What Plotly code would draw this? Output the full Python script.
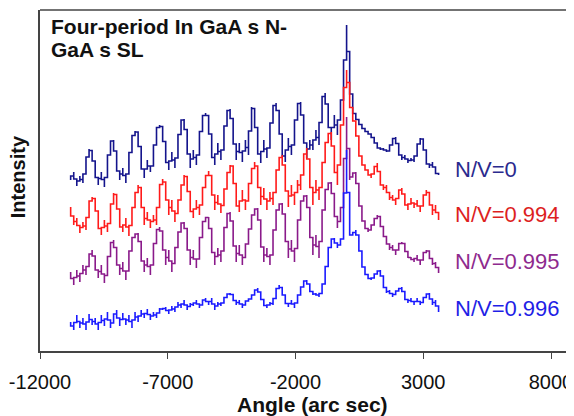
import plotly.graph_objects as go

# Angle (arc sec) sampling of the scans
angle = [
    -10800, -10680, -10560, -10440, -10320, -10200, -10080, -9960, -9840, -9720,
    -9600, -9480, -9360, -9240, -9120, -9000, -8880, -8760, -8640, -8520,
    -8400, -8280, -8160, -8040, -7920, -7800, -7680, -7560, -7440, -7320,
    -7200, -7080, -6960, -6840, -6720, -6600, -6480, -6360, -6240, -6120,
    -6000, -5880, -5760, -5640, -5520, -5400, -5280, -5160, -5040, -4920,
    -4800, -4680, -4560, -4440, -4320, -4200, -4080, -3960, -3840, -3720,
    -3600, -3480, -3360, -3240, -3120, -3000, -2880, -2760, -2640, -2520,
    -2400, -2280, -2160, -2040, -1920, -1800, -1680, -1560, -1440, -1320,
    -1200, -1080, -960, -840, -720, -600, -480, -360, -240, -120,
    0, 120, 240, 360, 480, 600, 720, 840, 960, 1080,
    1200, 1320, 1440, 1560, 1680, 1800, 1920, 2040, 2160, 2280,
    2400, 2520, 2640, 2760, 2880, 3000, 3120, 3240, 3360, 3480,
    3600,
]

# Offset intensities (arb. units) for each N/V ratio
nv_0 = [
    171, 179, 165, 175, 168, 186, 202, 199, 181, 166,
    179, 164, 183, 209, 211, 189, 171, 183, 168, 186,
    211, 220, 218, 191, 173, 191, 179, 191, 221, 226,
    223, 196, 181, 199, 183, 203, 230, 232, 211, 183,
    201, 186, 206, 233, 238, 233, 201, 186, 208, 191,
    211, 239, 242, 223, 191, 208, 189, 211, 196, 244,
    241, 206, 188, 211, 193, 213, 243, 248, 233, 201,
    189, 213, 196, 216, 246, 249, 223, 193, 211, 201,
    221, 206, 251, 258, 236, 211, 236, 216, 246, 256,
    326, 273, 241, 234, 229, 224, 221, 218, 216, 211,
    205, 201, 203, 199, 201, 211, 214, 201, 191, 196,
    188, 193, 189, 201, 213, 211, 191, 183, 189, 179,
    176,
]
nv_0994 = [
    144, 126, 133, 118, 129, 121, 146, 154, 151, 129,
    116, 131, 119, 136, 158, 155, 129, 119, 133, 115,
    136, 151, 166, 161, 126, 139, 123, 136, 126, 161,
    172, 166, 136, 151, 129, 146, 156, 176, 173, 146,
    133, 151, 136, 156, 171, 180, 171, 141, 156, 138,
    153, 171, 186, 184, 151, 139, 161, 141, 159, 176,
    189, 181, 146, 163, 141, 159, 146, 171, 191, 196,
    176, 144, 166, 146, 171, 161, 191, 203, 181, 146,
    171, 151, 176, 201, 216, 219, 191, 166, 206, 246,
    281, 256, 231, 229, 201, 189, 183, 179, 173, 181,
    188, 171, 161, 166, 151, 156, 146, 159, 163, 151,
    141, 153, 143, 151, 139, 151, 161, 156, 136, 146,
    131,
]
nv_0995 = [
    79, 66, 81, 69, 86, 76, 93, 101, 89, 73,
    86, 68, 83, 106, 111, 96, 76, 89, 71, 89,
    111, 116, 118, 101, 79, 93, 76, 96, 119, 124,
    116, 86, 101, 79, 96, 111, 127, 129, 116, 86,
    101, 83, 101, 126, 133, 134, 111, 86, 103, 89,
    111, 136, 139, 121, 89, 106, 86, 101, 113, 131,
    141, 143, 119, 89, 103, 86, 106, 136, 146, 148,
    126, 93, 111, 89, 116, 146, 154, 156, 131, 96,
    116, 93, 126, 156, 167, 169, 146, 123, 136, 151,
    234, 171, 177, 179, 156, 134, 126, 119, 123, 129,
    136, 133, 116, 113, 101, 106, 96, 106, 109, 106,
    93, 94, 89, 96, 86, 96, 101, 99, 86, 89,
    78,
]
nv_0996 = [
    29, 21, 36, 23, 33, 21, 37, 26, 33, 21,
    36, 25, 39, 23, 33, 41, 25, 38, 26, 36,
    23, 39, 29, 41, 33, 42, 31, 39, 33, 43,
    41, 44, 37, 45, 39, 49, 43, 51, 41, 48,
    45, 51, 43, 49, 53, 46, 53, 41, 49, 45,
    51, 56, 58, 55, 46, 51, 43, 49, 51, 53,
    59, 63, 55, 48, 43, 49, 46, 59, 66, 61,
    51, 44, 51, 43, 53, 59, 69, 71, 63, 56,
    58, 54, 61, 73, 96, 111, 113, 103, 109, 115,
    201, 116, 116, 121, 111, 89, 79, 74, 71, 75,
    79, 81, 69, 58, 61, 54, 59, 61, 64, 55,
    48, 53, 46, 53, 46, 51, 56, 58, 46, 51,
    39,
]

series_labels = ["N/V=0", "N/V=0.994", "N/V=0.995", "N/V=0.996"]
tick_vals = [-12000, -7000, -2000, 3000, 8000]
tick_text = ["-12000", "-7000", "-2000", "3000", "8000"]

FONT = "Liberation Sans, Arial, Helvetica, sans-serif"
line_colors = ["#14148c", "#ff1a1a", "#8a1a8a", "#1a1aff"]
label_colors = ["#2a2a8e", "#dd1f1f", "#8e2a8e", "#1f1fe6"]
label_y = [0.533, 0.401, 0.261, 0.126]

fig = go.Figure()
for name, vals, col in zip(series_labels, [nv_0, nv_0994, nv_0995, nv_0996], line_colors):
    fig.add_trace(go.Scatter(
        x=angle, y=vals, mode="lines", name=name, showlegend=False,
        line=dict(color=col, width=1.6, shape="vhv"),
    ))

annotations = []
for name, col, yy in zip(series_labels, label_colors, label_y):
    annotations.append(dict(
        x=0.773, y=yy, xref="paper", yref="paper", xanchor="left", yanchor="middle",
        text=name, showarrow=False, font=dict(family=FONT, size=22, color=col),
    ))

annotations += [
    dict(x=0.016, y=0.952, xref="paper", yref="paper", xanchor="left", yanchor="middle",
         text="<b>Four-period In GaA s N-</b>", showarrow=False,
         font=dict(family=FONT, size=21, color="#111")),
    dict(x=0.016, y=0.884, xref="paper", yref="paper", xanchor="left", yanchor="middle",
         text="<b>GaA s SL</b>", showarrow=False,
         font=dict(family=FONT, size=21, color="#111")),
    dict(x=-0.041, y=0.51, xref="paper", yref="paper", xanchor="center", yanchor="middle",
         text="<b>Intensity</b>", textangle=-90, showarrow=False,
         font=dict(family=FONT, size=20, color="#111")),
    dict(x=0.51, y=-0.157, xref="paper", yref="paper", xanchor="center", yanchor="middle",
         text="<b>Angle (arc sec)</b>", showarrow=False,
         font=dict(family=FONT, size=21, color="#111")),
]

# The page body adds an 8 px margin, so the figure is sized/margined to compensate.
fig.update_layout(
    width=566, height=408,
    margin=dict(l=32, r=0, t=2, b=65),
    paper_bgcolor="white", plot_bgcolor="white",
    annotations=annotations,
    shapes=[dict(type="line", xref="paper", yref="paper", x0=0, x1=1, y0=1, y1=1,
                 line=dict(color="#444", width=1.5))],
    font=dict(family=FONT, color="#111"),
)
fig.update_xaxes(
    range=[-12000, 8900], tickvals=tick_vals, ticktext=tick_text,
    showline=True, linecolor="#444", linewidth=1.5,
    ticks="outside", ticklen=6, tickwidth=1.2, tickcolor="#444",
    showgrid=False, zeroline=False, ticklabelstandoff=6,
    tickfont=dict(family=FONT, size=20, color="#111"),
)
fig.update_yaxes(
    range=[0, 341], showline=True, linecolor="#444", linewidth=1.5,
    showticklabels=False, ticks="", showgrid=False, zeroline=False,
)

fig.write_html("out.html")
